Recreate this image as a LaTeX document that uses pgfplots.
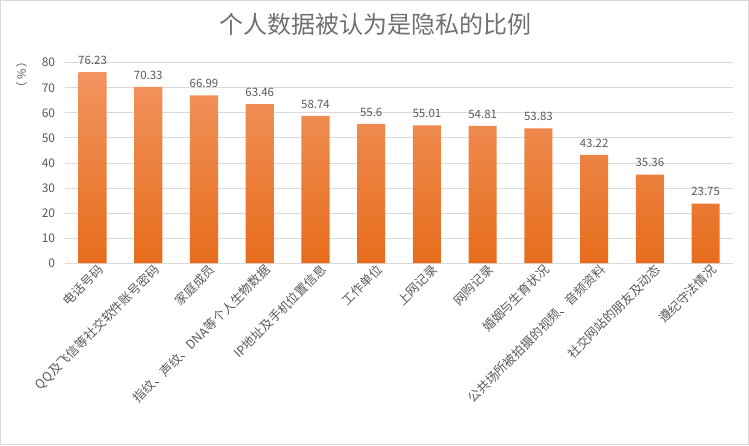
\documentclass[border=0pt]{standalone}
\usepackage{fontspec}
\setmainfont{Noto Sans CJK SC}
\usepackage{pgfplots}
\pgfplotsset{compat=1.18}
\definecolor{txt}{HTML}{595959}
\definecolor{titlec}{HTML}{707070}
\definecolor{gridc}{HTML}{D9D9D9}
\definecolor{bartop}{HTML}{F29460}
\definecolor{barbot}{HTML}{E76D1C}

\begin{document}
\begin{tikzpicture}[x=1bp,y=1bp]
    % outer frame of the chart
    \draw[gridc, line width=1bp] (-64,-181) rectangle (682,262);
    \node[titlec, font=\fontsize{24}{26}\selectfont] at (310,238) {个人数据被认为是隐私的比例};
    \node[txt, rotate=90, font=\fontsize{11.5}{12}\selectfont] at (-43,188) {（\,\%\,）};
    \begin{axis}[
        at={(0,0)}, anchor=south west,
        scale only axis,
        width=667bp, height=200bp,
        xmin=-0.5, xmax=11.5,
        ymin=0, ymax=80,
        ytick={0,10,...,80},
        xtick=data,
        xticklabels={电话号码,QQ及飞信等社交软件账号密码,家庭成员,指纹、声纹、DNA等个人生物数据,IP地址及手机位置信息,工作单位,上网记录,网购记录,婚姻与生育状况,公共场所被拍摄的视频、音频资料,社交网站的朋友及动态,遵纪守法情况},
        x tick label style={rotate=45, anchor=north east, inner sep=1bp, font=\fontsize{12.5}{13}\selectfont, text=txt, xshift=4bp, yshift=-2bp},
        y tick label style={font=\fontsize{12}{13}\selectfont, text=txt},
        /pgf/number format/assume math mode=true,
        major tick length=0pt,
        ymajorgrids=true,
        grid style={gridc, line width=0.8bp},
        axis x line*=bottom,
        axis y line*=left,
        x axis line style={gridc, line width=1bp, -},
        y axis line style={draw=none},
        ytick style={draw=none},
        xtick style={draw=none},
        yticklabel style={xshift=-6bp},
        nodes near coords,
        point meta=explicit symbolic,
        nodes near coords style={font=\fontsize{11.5}{12}\selectfont, text=txt, yshift=4bp},
        clip=false,
    ]
    \addplot[ybar, bar width=28bp, draw=none, top color=bartop, bottom color=barbot]
    coordinates {
        (0,76.23) [76.23]
        (1,70.33) [70.33]
        (2,66.99) [66.99]
        (3,63.46) [63.46]
        (4,58.74) [58.74]
        (5,55.6) [55.6]
        (6,55.01) [55.01]
        (7,54.81) [54.81]
        (8,53.83) [53.83]
        (9,43.22) [43.22]
        (10,35.36) [35.36]
        (11,23.75) [23.75]
    };
    \end{axis}
\end{tikzpicture}
\end{document}
